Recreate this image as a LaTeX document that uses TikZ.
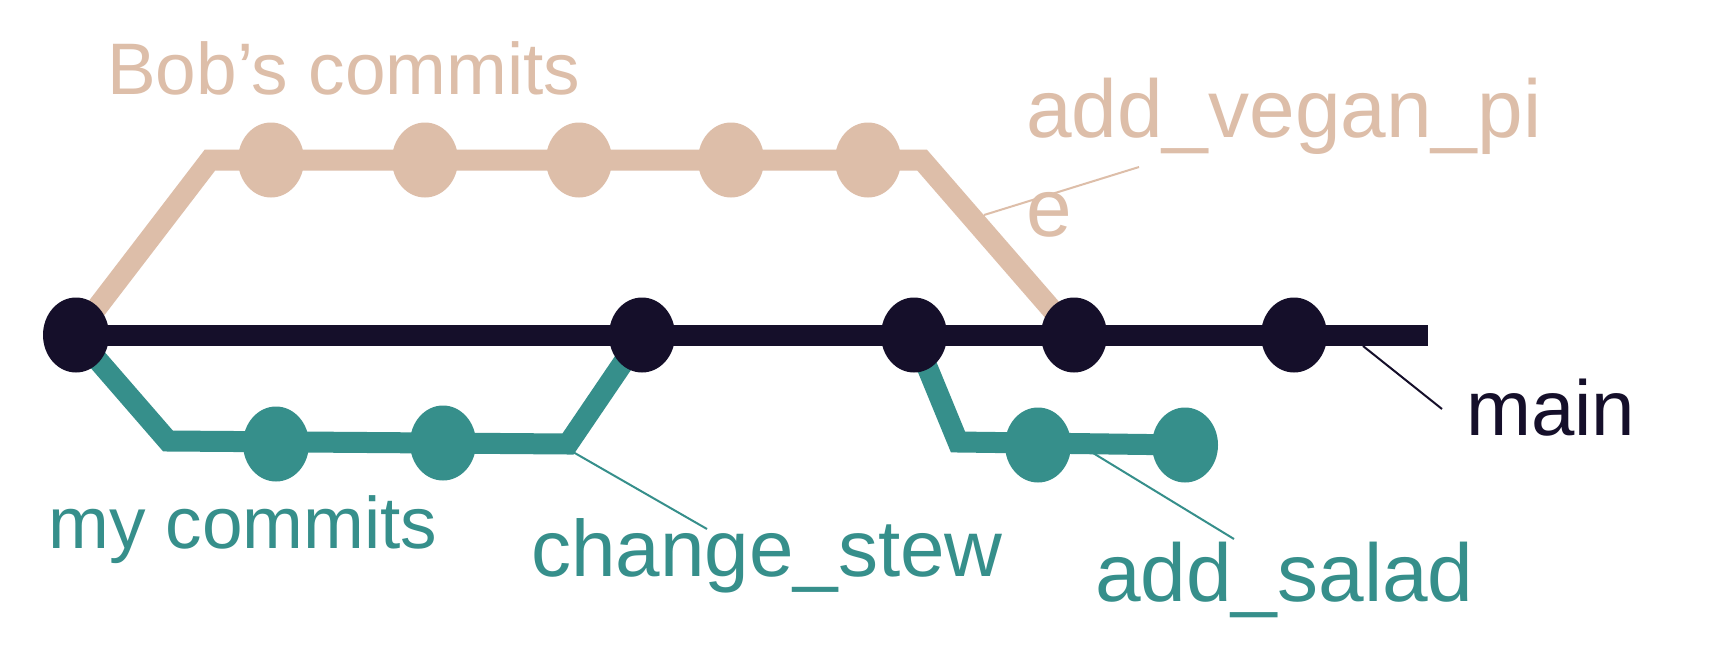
\documentclass[tikz,border=0pt]{standalone}
\usepackage{fontspec}
\setmainfont{Liberation Sans}
\usetikzlibrary{shapes.geometric,backgrounds}
\definecolor{bob}{HTML}{DDBEA9}
\definecolor{mine}{HTML}{368F8B}
\definecolor{trunk}{HTML}{150F2A}
\begin{document}
\begin{tikzpicture}[x=1pt,y=-1pt,
commit/.style={ellipse,minimum width=66pt,minimum height=75pt,inner sep=0pt},
branch/.style={line width=21pt},
leader/.style={line width=2pt},
tag/.style={anchor=base west,inner sep=0pt}]
\useasboundingbox (0,0) rectangle (1716,670);

\foreach \x/\n in {76/m1,642/m2,914/m3,1074/m4,1294/m5}{
\node[commit,fill=trunk] (\n) at (\x,335) {};}
\foreach \x/\n in {271/b1,425/b2,579/b3,731/b4,868/b5}{
\node[commit,fill=bob] (\n) at (\x,160) {};}
\foreach \x/\y/\n in {276/444/t1,443/443/t2,1038/445/t3,1185/445/t4}{
\node[commit,fill=mine] (\n) at (\x,\y) {};}

\coordinate (mainend) at (1428,335);
\coordinate (bobup) at (210,160);
\coordinate (bobdown) at (922,160);
\coordinate (mydown) at (168,441);
\coordinate (myup) at (568,444);
\coordinate (saladdown) at (958,442);

\begin{scope}[on background layer]
\fill[white] (0,0) rectangle (1716,670);
\draw[branch,trunk] (m1.center) -- (mainend);
\draw[branch,bob] (m1.center) -- (bobup) -- (bobdown) -- (m4.center);
\draw[branch,mine] (m1.center) -- (mydown) -- (myup) -- (m2.center);
\draw[branch,mine] (m3.center) -- (saladdown) -- (t4.center);
\end{scope}

\node[tag,text=bob,font=\fontsize{73}{88}\selectfont] (bobs) at (107,94) {Bob’s commits};
\node[tag,text=bob,font=\fontsize{82}{99}\selectfont,align=left] (vegan) at (1026,236) {add\_vegan\_pi\\e};
\node[tag,text=trunk,font=\fontsize{78}{94}\selectfont] (mainlbl) at (1466,435) {main};
\node[tag,text=mine,font=\fontsize{73}{88}\selectfont] (mycommits) at (48,548) {my commits};
\node[tag,text=mine,font=\fontsize{80}{96}\selectfont] (stew) at (531,576) {change\_stew};
\node[tag,text=mine,font=\fontsize{82}{99}\selectfont] (salad) at (1095,601) {add\_salad};

\coordinate (v1) at (984,215);
\coordinate (v2) at (1139,167);
\coordinate (k1) at (1363,346);
\coordinate (k2) at (1442,409);
\coordinate (s1) at (573,452);
\coordinate (s2) at (707,529);
\coordinate (a1) at (1093,453);
\coordinate (a2) at (1234,539);
\draw[leader,bob] (v1) -- (v2);
\draw[leader,trunk] (k1) -- (k2);
\draw[leader,mine] (s1) -- (s2);
\draw[leader,mine] (a1) -- (a2);

\end{tikzpicture}
\end{document}
